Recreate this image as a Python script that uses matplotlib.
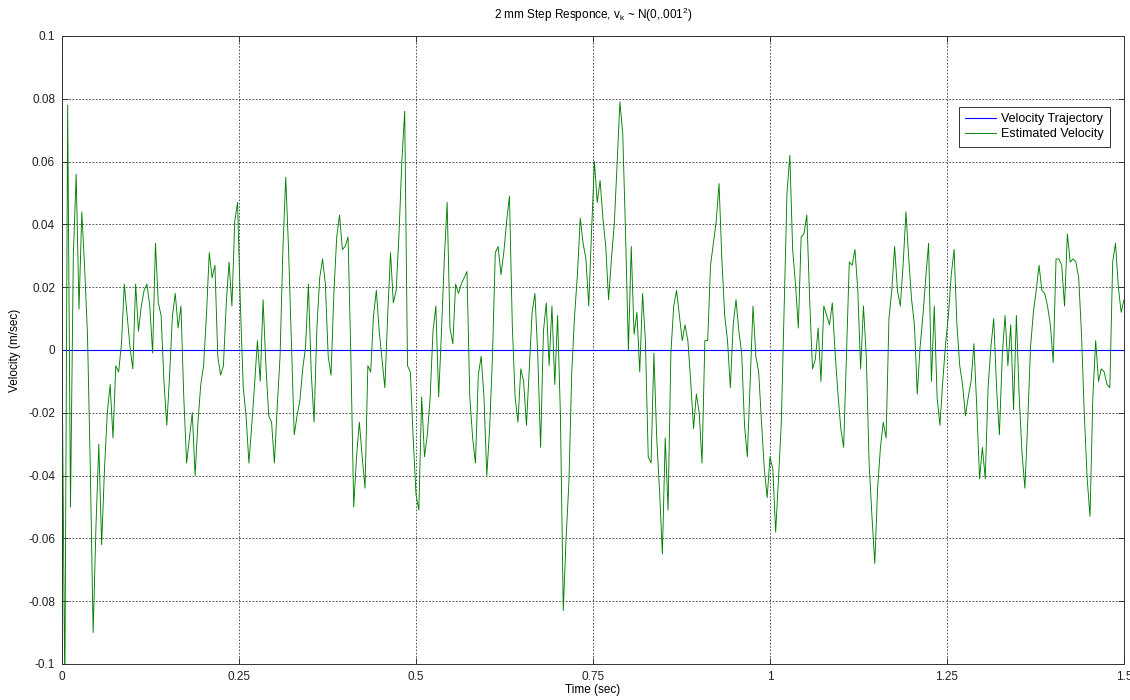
import numpy as np
import matplotlib
matplotlib.use("Agg")
import matplotlib.pyplot as plt

plt.rcParams["font.family"] = ["Liberation Sans", "DejaVu Sans"]
plt.rcParams["mathtext.fontset"] = "custom"
plt.rcParams["mathtext.rm"] = "Liberation Sans"

# filter output, one sample every 4 ms over 1.5 s
dt = 0.004
est_velocity = [
    0.000, -0.110, 0.078, -0.050, 0.030, 0.056, 0.013, 0.044, 0.026, 0.005,
    -0.038, -0.090, -0.056, -0.030, -0.062, -0.038, -0.020, -0.011, -0.028, -0.005,
    -0.007, 0.002, 0.021, 0.011, 0.001, -0.006, 0.021, 0.006, 0.014, 0.019,
    0.021, 0.014, -0.001, 0.034, 0.015, 0.011, -0.010, -0.024, -0.008, 0.011,
    0.018, 0.007, 0.014, -0.015, -0.036, -0.028, -0.020, -0.040, -0.023, -0.011,
    -0.005, 0.011, 0.031, 0.023, 0.027, -0.002, -0.008, -0.005, 0.015, 0.028,
    0.014, 0.041, 0.047, 0.014, -0.012, -0.021, -0.036, -0.024, -0.011, 0.003,
    -0.010, 0.016, -0.005, -0.021, -0.023, -0.036, -0.018, -0.002, 0.032, 0.055,
    0.032, 0.003, -0.027, -0.021, -0.016, -0.006, 0.001, 0.021, -0.007, -0.023,
    0.007, 0.023, 0.029, 0.021, -0.002, -0.008, 0.018, 0.036, 0.043, 0.032,
    0.033, 0.036, -0.002, -0.050, -0.034, -0.023, -0.034, -0.044, -0.005, -0.007,
    0.011, 0.019, 0.006, -0.003, -0.012, 0.011, 0.031, 0.015, 0.019, 0.037,
    0.060, 0.076, -0.005, -0.007, -0.028, -0.046, -0.051, -0.015, -0.034, -0.027,
    -0.015, 0.006, 0.014, -0.015, 0.006, 0.029, 0.047, 0.007, 0.002, 0.021,
    0.018, 0.021, 0.023, 0.025, -0.015, -0.028, -0.036, -0.008, -0.002, -0.015,
    -0.040, -0.025, -0.002, 0.031, 0.033, 0.024, 0.031, 0.041, 0.049, 0.008,
    -0.015, -0.023, -0.006, -0.010, -0.024, -0.006, 0.012, 0.018, -0.002, -0.031,
    0.006, 0.015, -0.005, 0.014, -0.011, 0.011, -0.021, -0.083, -0.060, -0.042,
    -0.007, 0.011, 0.024, 0.042, 0.034, 0.029, 0.014, 0.038, 0.060, 0.047,
    0.054, 0.042, 0.033, 0.016, 0.029, 0.040, 0.059, 0.079, 0.069, 0.037,
    0.000, 0.033, 0.005, 0.012, -0.007, 0.018, 0.003, -0.034, -0.036, -0.001,
    -0.028, -0.045, -0.065, -0.028, -0.051, -0.001, 0.014, 0.019, 0.011, 0.003,
    0.008, 0.003, -0.010, -0.025, -0.014, -0.020, -0.036, 0.003, 0.003, 0.027,
    0.034, 0.041, 0.053, 0.029, 0.011, 0.003, -0.012, 0.008, 0.016, 0.006,
    -0.001, -0.024, -0.034, -0.010, 0.014, -0.002, -0.007, -0.023, -0.038, -0.047,
    -0.034, -0.038, -0.058, -0.041, -0.023, 0.014, 0.050, 0.062, 0.032, 0.021,
    0.007, 0.036, 0.037, 0.043, 0.016, -0.006, -0.003, 0.007, -0.010, 0.014,
    0.011, 0.008, 0.015, -0.001, -0.014, -0.025, -0.031, -0.001, 0.028, 0.027,
    0.032, 0.019, -0.006, 0.014, -0.002, -0.036, -0.053, -0.068, -0.044, -0.031,
    -0.023, -0.028, 0.010, 0.019, 0.033, 0.019, 0.014, 0.027, 0.044, 0.029,
    0.016, 0.008, -0.014, 0.001, 0.011, 0.023, 0.034, -0.010, 0.014, -0.015,
    -0.024, -0.010, 0.002, 0.011, 0.024, 0.032, 0.008, -0.005, -0.011, -0.021,
    -0.015, -0.010, 0.002, -0.018, -0.041, -0.031, -0.041, -0.012, 0.001, 0.010,
    -0.012, -0.027, -0.002, 0.011, -0.005, 0.008, -0.019, 0.011, -0.015, -0.033,
    -0.044, -0.023, 0.001, 0.012, 0.019, 0.027, 0.019, 0.018, 0.014, 0.008,
    -0.004, 0.029, 0.029, 0.027, 0.014, 0.037, 0.028, 0.029, 0.028, 0.023,
    0.005, -0.021, -0.041, -0.053, -0.015, 0.003, -0.010, -0.006, -0.007, -0.011,
    -0.012, 0.028, 0.034, 0.020, 0.012, 0.016,
]
time = np.arange(len(est_velocity)) * dt
true_velocity = np.zeros(len(est_velocity))  # target holds still after the step

x_ticks = [0, 0.25, 0.5, 0.75, 1, 1.25, 1.5]
x_labels = ["0", "0.25", "0.5", "0.75", "1", "1.25", "1.5"]
y_ticks = [-0.1, -0.08, -0.06, -0.04, -0.02, 0, 0.02, 0.04, 0.06, 0.08, 0.1]
y_labels = ["-0.1", "-0.08", "-0.06", "-0.04", "-0.02", "0",
            "0.02", "0.04", "0.06", "0.08", "0.1"]

fig = plt.figure(figsize=(11.3, 7.0), dpi=100)
ax = fig.add_axes([62 / 1130, 36 / 700, 1062 / 1130, 628 / 700])

ax.plot(time, true_velocity, color=(0, 0, 1), lw=0.8, label="Velocity Trajectory")
ax.plot(time, est_velocity, color=(0, 0.5, 0), lw=0.65, label="Estimated Velocity")

ax.set_xlim(0, 1.5)
ax.set_ylim(-0.1, 0.1)
ax.set_xticks(x_ticks)
ax.set_xticklabels(x_labels)
ax.set_yticks(y_ticks)
ax.set_yticklabels(y_labels)
ax.tick_params(direction="in", length=4, width=0.6, labelsize=8.5,
               colors="#222222", top=True, right=True, pad=5)
ax.grid(True, color="black", linestyle=(0, (2, 2)), lw=0.6, alpha=0.8)
for sp in ax.spines.values():
    sp.set_color("#333333")
    sp.set_linewidth(0.7)

ax.set_xlabel("Time (sec)", fontsize=8.5, labelpad=1)
ax.set_ylabel("Velocity (m/sec)", fontsize=8.5, labelpad=5)
ax.set_title(r"2 mm Step Responce, v$_\mathregular{k}$ ~ N(0,.001$^\mathregular{2}$)",
             fontsize=8.5, pad=12)

leg = ax.legend(loc="upper right", bbox_to_anchor=(0.9868, 0.887), fontsize=9,
                fancybox=False, framealpha=1, edgecolor="#333333",
                handlelength=2.5, borderpad=0.5, labelspacing=0.25,
                handletextpad=0.4, borderaxespad=0)
leg.get_frame().set_linewidth(0.7)

fig.savefig("out.png", dpi=100, facecolor="white")
